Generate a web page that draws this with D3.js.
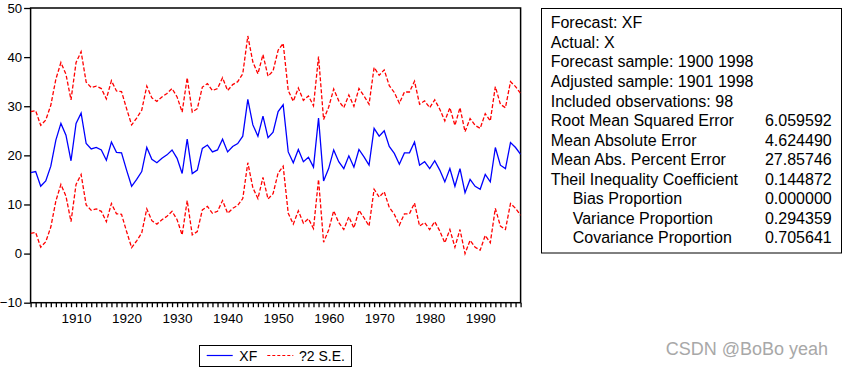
<!DOCTYPE html>
<html>
<head>
<meta charset="utf-8">
<script src="https://cdn.jsdelivr.net/npm/d3@7"></script>
<style>
  html, body { margin: 0; padding: 0; background: #fff; }
  svg { display: block; font-family: "Liberation Sans", Arial, sans-serif; }
</style>
</head>
<body>
<svg id="chart" width="843" height="368"></svg>
<script>
// ---- data ----
const startYear = 1901;
const endYear = 1998;
const xf = [16.5,16.7,13.7,14.8,17.8,23.1,26.5,24.1,18.9,26.5,
            28.6,22.4,21.3,21.6,21.1,19.0,22.7,20.6,20.5,17.0,
            13.7,15.1,16.7,21.6,19.2,18.5,19.4,20.1,21.1,19.4,
            16.3,23.3,16.3,17.0,21.4,22.1,20.7,21.1,23.3,20.7,
            21.8,22.4,23.9,31.4,26.2,23.9,28.0,23.6,24.7,28.9,
            30.3,20.7,18.5,21.2,18.7,19.6,17.6,27.6,14.8,17.3,
            21.1,18.7,17.3,19.9,17.6,21.2,19.7,18.0,25.5,23.9,
            25.0,21.8,20.4,18.2,20.5,20.5,22.7,18.0,18.7,17.3,
            18.9,17.0,14.6,17.3,13.7,17.3,12.4,15.1,13.7,13.1,
            16.1,14.6,21.6,18.0,17.3,22.6,21.6,20.2];
// two standard errors (half-width of the band) read per year
const se2 = [12.4,12.4,12.4,12.4,12.4,12.4,12.4,12.4,12.4,12.4,
             12.5,12.5,12.5,12.5,12.5,12.5,12.5,12.5,12.5,12.5,
             12.5,12.5,12.5,12.5,12.5,12.5,12.5,12.5,12.5,12.5,
             12.5,12.5,12.5,12.5,12.5,12.5,12.5,12.5,12.5,12.5,
             12.6,12.6,12.7,12.9,12.8,12.7,12.5,12.5,12.5,12.5,
             12.5,12.5,12.5,12.5,12.5,12.5,12.5,12.5,12.5,12.5,
             12.4,12.4,12.4,12.4,12.4,12.4,12.4,12.4,12.4,12.4,
             12.4,12.4,12.4,12.4,12.4,12.4,12.4,12.4,12.4,12.4,
             12.4,12.4,12.4,12.4,12.4,12.4,12.4,12.4,12.4,12.4,
             12.4,12.4,12.4,12.4,12.4,12.4,12.4,12.4];
const yTicks = [-10, 0, 10, 20, 30, 40, 50];
const xLabelYears = [1910, 1920, 1930, 1940, 1950, 1960, 1970, 1980, 1990];
const legendLabels = ["XF", "?2 S.E."];
const statLabels = ["Forecast: XF", "Actual: X", "Forecast sample: 1900 1998",
  "Adjusted sample: 1901 1998", "Included observations: 98",
  "Root Mean Squared Error", "Mean Absolute Error", "Mean Abs. Percent Error",
  "Theil Inequality Coefficient", "Bias Proportion", "Variance Proportion",
  "Covariance Proportion"];
const statValues = ["", "", "", "", "", "6.059592", "4.624490", "27.85746",
  "0.144872", "0.000000", "0.294359", "0.705641"];
const statIndent = [0,0,0,0,0,0,0,0,0,1,1,1];
const watermark = "CSDN @BoBo yeah";

// ---- chart ----
const svg = d3.select("#chart");
const years = d3.range(startYear, endYear + 1);
const L = 30.6, R = 520.6, T = 8, B = 302.7;
const x = d3.scaleLinear().domain([startYear, endYear]).range([L, R]);
const y = d3.scaleLinear().domain([-10, 50]).range([B, T]);

// frame
svg.append("rect").attr("x", L).attr("y", T).attr("width", R - L).attr("height", B - T)
  .attr("fill", "none").attr("stroke", "#000").attr("stroke-width", 1.5);

// y axis
const yAxis = svg.append("g").attr("transform", `translate(${L},0)`)
  .call(d3.axisLeft(y).tickValues(yTicks).tickSize(6.5).tickPadding(2).tickFormat(d3.format("d")));
yAxis.select(".domain").remove();
yAxis.selectAll("line").attr("stroke", "#000").attr("stroke-width", 1.3);
yAxis.selectAll("text").attr("font-size", 13.2).attr("fill", "#000")
  .attr("font-family", "Liberation Sans, Arial, sans-serif");

// x axis: yearly ticks
const xAxis = svg.append("g").attr("transform", `translate(0,${B})`)
  .call(d3.axisBottom(x).tickValues(years).tickSize(4.5).tickPadding(6)
    .tickFormat(d => xLabelYears.includes(d) ? String(d) : ""));
xAxis.select(".domain").remove();
xAxis.selectAll("line").attr("stroke", "#000").attr("stroke-width", 1.3);
xAxis.selectAll("text").attr("font-size", 13.5).attr("fill", "#000")
  .attr("font-family", "Liberation Sans, Arial, sans-serif");

// lines
const clip = svg.append("clipPath").attr("id", "clip").append("rect")
  .attr("x", L).attr("y", T).attr("width", R - L).attr("height", B - T);
const line = d3.line().x(d => x(d[0])).y(d => y(d[1]));
const g = svg.append("g").attr("clip-path", "url(#clip)");
const upper = years.map((yr, i) => [yr, xf[i] + se2[i]]);
const lower = years.map((yr, i) => [yr, xf[i] - se2[i]]);
const mid = years.map((yr, i) => [yr, xf[i]]);
[upper, lower].forEach(s => g.append("path").attr("d", line(s)).attr("fill", "none")
  .attr("stroke", "#ff0000").attr("stroke-width", 1.3).attr("stroke-dasharray", "4,2"));
g.append("path").attr("d", line(mid)).attr("fill", "none")
  .attr("stroke", "#0000ff").attr("stroke-width", 1.3);

// legend
const lg = svg.append("g");
lg.append("rect").attr("x", 199.5).attr("y", 345.5).attr("width", 152).attr("height", 21)
  .attr("fill", "#fff").attr("stroke", "#000").attr("stroke-width", 1);
lg.append("line").attr("x1", 206.7).attr("x2", 232.7).attr("y1", 355.5).attr("y2", 355.5)
  .attr("stroke", "#0000ff").attr("stroke-width", 1.2);
lg.append("text").attr("x", 239.3).attr("y", 361).attr("font-size", 14).text(legendLabels[0]);
lg.append("line").attr("x1", 267.3).attr("x2", 293.3).attr("y1", 355.5).attr("y2", 355.5)
  .attr("stroke", "#ff0000").attr("stroke-width", 1.2).attr("stroke-dasharray", "3,2");
lg.append("text").attr("x", 299).attr("y", 361).attr("font-size", 14).text(legendLabels[1]);

// stats box
const sb = svg.append("g");
sb.append("rect").attr("x", 541.5).attr("y", 8.5).attr("width", 300).attr("height", 244.5)
  .attr("fill", "#fff").attr("stroke", "#000").attr("stroke-width", 1);
statLabels.forEach((t, i) => {
  const by = 28.3 + 19.55 * i;
  sb.append("text").attr("x", 550.7 + statIndent[i] * 22).attr("y", by)
    .attr("font-size", 16).attr("fill", "#000").text(t);
  if (statValues[i]) sb.append("text").attr("x", 831.7).attr("y", by)
    .attr("text-anchor", "end").attr("font-size", 16).attr("fill", "#000").text(statValues[i]);
});

// watermark
svg.append("text").attr("x", 828).attr("y", 355).attr("text-anchor", "end")
  .attr("font-size", 18).attr("fill", "#a8a8a8").text(watermark);
</script>
</body>
</html>
